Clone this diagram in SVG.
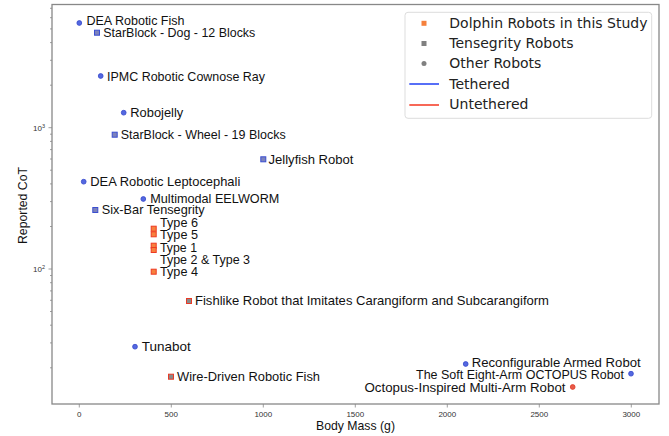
<svg xmlns="http://www.w3.org/2000/svg" width="669" height="436" viewBox="0 0 669 436">
<style>
.lbl{font-family:"Liberation Sans",Arial,sans-serif;font-size:13.6px;fill:#111}
.tick{font-family:"Liberation Sans",Arial,sans-serif;font-size:8px;fill:#333}
.ttl{font-family:"Liberation Sans",Arial,sans-serif;font-size:13.6px;fill:#111}
.leg{font-family:"DejaVu Sans",sans-serif;font-size:14px;fill:#222}
.tk{stroke:#888;stroke-width:0.8}
.cb{fill:#5468e0;stroke:#3446cc;stroke-width:0.8}
.cr{fill:#e85a48;stroke:#e03a26;stroke-width:0.8}
.sb{fill:#7c82bc;stroke:#3a4ed0;stroke-width:1}
.so{fill:#f7803e;stroke:#ee3a22;stroke-width:1}
.sg{fill:#8a8a8a;stroke:#e83a26;stroke-width:1}
</style>
<rect width="669" height="436" fill="#fff"/>
<g id="axes">
<rect x="52" y="4.5" width="607" height="399.5" fill="none" stroke="#888" stroke-width="1.3"/>
<g class="tk">
<line x1="79.3" y1="404" x2="79.3" y2="407.5"/><line x1="171.3" y1="404" x2="171.3" y2="407.5"/>
<line x1="263.3" y1="404" x2="263.3" y2="407.5"/><line x1="355.3" y1="404" x2="355.3" y2="407.5"/>
<line x1="447.3" y1="404" x2="447.3" y2="407.5"/><line x1="539.3" y1="404" x2="539.3" y2="407.5"/>
<line x1="631.3" y1="404" x2="631.3" y2="407.5"/>
<line x1="48.5" y1="127.7" x2="52" y2="127.7"/><line x1="48.5" y1="269" x2="52" y2="269"/>
<line x1="50" y1="367.8" x2="52" y2="367.8"/><line x1="50" y1="342.9" x2="52" y2="342.9"/>
<line x1="50" y1="325.2" x2="52" y2="325.2"/><line x1="50" y1="311.5" x2="52" y2="311.5"/>
<line x1="50" y1="300.3" x2="52" y2="300.3"/><line x1="50" y1="290.9" x2="52" y2="290.9"/>
<line x1="50" y1="282.7" x2="52" y2="282.7"/><line x1="50" y1="275.5" x2="52" y2="275.5"/>
<line x1="50" y1="226.5" x2="52" y2="226.5"/><line x1="50" y1="201.6" x2="52" y2="201.6"/>
<line x1="50" y1="183.9" x2="52" y2="183.9"/><line x1="50" y1="170.2" x2="52" y2="170.2"/>
<line x1="50" y1="159" x2="52" y2="159"/><line x1="50" y1="149.6" x2="52" y2="149.6"/>
<line x1="50" y1="141.4" x2="52" y2="141.4"/><line x1="50" y1="134.2" x2="52" y2="134.2"/>
<line x1="50" y1="85.2" x2="52" y2="85.2"/><line x1="50" y1="60.3" x2="52" y2="60.3"/>
<line x1="50" y1="42.6" x2="52" y2="42.6"/><line x1="50" y1="28.9" x2="52" y2="28.9"/>
<line x1="50" y1="17.7" x2="52" y2="17.7"/><line x1="50" y1="8.3" x2="52" y2="8.3"/>
</g>
<g class="tick" text-anchor="middle">
<text x="79.3" y="417">0</text><text x="171.3" y="417">500</text><text x="263.3" y="417">1000</text>
<text x="355.3" y="417">1500</text><text x="447.3" y="417">2000</text><text x="539.3" y="417">2500</text>
<text x="631.3" y="417">3000</text>
</g>
<g class="tick" text-anchor="end">
<text x="45" y="131">10<tspan font-size="5.5" dy="-3.5">3</tspan></text>
<text x="45" y="272.3">10<tspan font-size="5.5" dy="-3.5">2</tspan></text>
</g>
<text class="ttl" x="316" y="430" textLength="79" lengthAdjust="spacingAndGlyphs">Body Mass (g)</text>
<text class="ttl" transform="translate(27 244) rotate(-90)" textLength="77" lengthAdjust="spacingAndGlyphs">Reported CoT</text>
</g>
<g id="legend">
<rect x="405" y="12.3" width="246.7" height="106" rx="3" fill="#fff" stroke="#ddd" stroke-width="1"/>
<rect x="421.5" y="20.8" width="5" height="5" fill="#f5803c"/>
<rect x="421.5" y="41" width="5" height="5" fill="#808080"/>
<circle cx="424" cy="63.5" r="2.5" fill="#808080"/>
<line x1="409.3" y1="84" x2="439" y2="84" stroke="#1f3ff5" stroke-width="1.5"/>
<line x1="409.3" y1="105" x2="439" y2="105" stroke="#f5361f" stroke-width="1.5"/>
<text class="leg" x="449.3" y="27.7">Dolphin Robots in this Study</text>
<text class="leg" x="449.3" y="48">Tensegrity Robots</text>
<text class="leg" x="449.3" y="68.3">Other Robots</text>
<text class="leg" x="449.3" y="88.7">Tethered</text>
<text class="leg" x="449.3" y="109">Untethered</text>
</g>
<g id="dea-robotic-fish"><circle class="cb" cx="79.3" cy="23" r="2.4"/><text class="lbl" x="86.5" y="24.8" textLength="98" lengthAdjust="spacingAndGlyphs">DEA Robotic Fish</text></g>
<g id="starblock-dog"><rect class="sb" x="94.5" y="30.2" width="5" height="5"/><text class="lbl" x="103.3" y="37" textLength="152" lengthAdjust="spacingAndGlyphs">StarBlock - Dog - 12 Blocks</text></g>
<g id="ipmc-ray"><circle class="cb" cx="100.7" cy="76" r="2.4"/><text class="lbl" x="107" y="80.5" textLength="158" lengthAdjust="spacingAndGlyphs">IPMC Robotic Cownose Ray</text></g>
<g id="robojelly"><circle class="cb" cx="123.7" cy="112.7" r="2.4"/><text class="lbl" x="130.3" y="116.6" textLength="53" lengthAdjust="spacingAndGlyphs">Robojelly</text></g>
<g id="starblock-wheel"><rect class="sb" x="112.2" y="132.2" width="5" height="5"/><text class="lbl" x="120.7" y="139.3" textLength="165" lengthAdjust="spacingAndGlyphs">StarBlock - Wheel - 19 Blocks</text></g>
<g id="jellyfish-robot"><rect class="sb" x="260.8" y="156.8" width="5" height="5"/><text class="lbl" x="268.5" y="164.3" textLength="85" lengthAdjust="spacingAndGlyphs">Jellyfish Robot</text></g>
<g id="dea-leptocephali"><circle class="cb" cx="83.7" cy="181.7" r="2.4"/><text class="lbl" x="90.3" y="186" textLength="150" lengthAdjust="spacingAndGlyphs">DEA Robotic Leptocephali</text></g>
<g id="eelworm"><circle class="cb" cx="143.3" cy="199" r="2.4"/><text class="lbl" x="150.3" y="202.6" textLength="129" lengthAdjust="spacingAndGlyphs">Multimodal EELWORM</text></g>
<g id="six-bar"><rect class="sb" x="92.8" y="207.5" width="5" height="5"/><text class="lbl" x="101.7" y="214.3" textLength="103" lengthAdjust="spacingAndGlyphs">Six-Bar Tensegrity</text></g>
<g id="type6"><rect class="so" x="151.2" y="226.2" width="5" height="5"/><text class="lbl" x="160" y="226.6" textLength="38" lengthAdjust="spacingAndGlyphs">Type 6</text></g>
<g id="type5"><rect class="so" x="151.2" y="231.8" width="5" height="5"/><text class="lbl" x="160" y="238.6" textLength="38" lengthAdjust="spacingAndGlyphs">Type 5</text></g>
<g id="type1"><rect class="so" x="151.2" y="243.2" width="5" height="5"/><text class="lbl" x="160" y="252" textLength="37" lengthAdjust="spacingAndGlyphs">Type 1</text></g>
<g id="type2-3"><rect class="so" x="151.2" y="247.5" width="5" height="5"/><text class="lbl" x="160" y="264.3" textLength="90" lengthAdjust="spacingAndGlyphs">Type 2 &amp; Type 3</text></g>
<g id="type4"><rect class="so" x="151.2" y="269.2" width="5" height="5"/><text class="lbl" x="160" y="276" textLength="38" lengthAdjust="spacingAndGlyphs">Type 4</text></g>
<g id="fishlike"><rect class="sg" x="186.5" y="298.5" width="5" height="5"/><text class="lbl" x="195" y="305.3" textLength="354" lengthAdjust="spacingAndGlyphs">Fishlike Robot that Imitates Carangiform and Subcarangiform</text></g>
<g id="tunabot"><circle class="cb" cx="135" cy="346.7" r="2.4"/><text class="lbl" x="141.7" y="351" textLength="49" lengthAdjust="spacingAndGlyphs">Tunabot</text></g>
<g id="wire-driven"><rect class="sg" x="168.5" y="374.2" width="5" height="5"/><text class="lbl" x="177" y="381" textLength="143" lengthAdjust="spacingAndGlyphs">Wire-Driven Robotic Fish</text></g>
<g id="reconfigurable"><circle class="cb" cx="465.7" cy="364" r="2.4"/><text class="lbl" x="471.7" y="367" textLength="169" lengthAdjust="spacingAndGlyphs">Reconfigurable Armed Robot</text></g>
<g id="octopus-soft"><circle class="cb" cx="631" cy="373.7" r="2.4"/><text class="lbl" x="416" y="379" textLength="208" lengthAdjust="spacingAndGlyphs">The Soft Eight-Arm OCTOPUS Robot</text></g>
<g id="octopus-multi"><circle class="cr" cx="572.7" cy="387" r="2.4"/><text class="lbl" x="364.5" y="392" textLength="201" lengthAdjust="spacingAndGlyphs">Octopus-Inspired Multi-Arm Robot</text></g>
<g id="connectors"></g>
</svg>
